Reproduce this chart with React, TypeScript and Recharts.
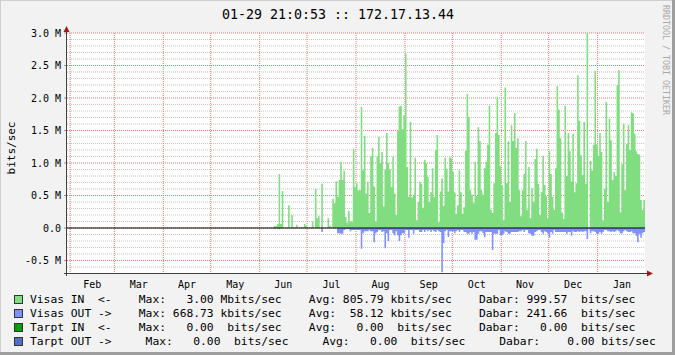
import React from 'react';
import { ComposedChart, Area, XAxis, YAxis, CartesianGrid, ReferenceLine } from 'recharts';

// ---- data (values in Mbits/sec, one value per day) ----
// day 0 = start of the graph (01-29 of previous year); data begins at firstDay
const firstDay = 127;
const totalDays = 366;

const visasIn: number[] = [
  0, 0, 0, 0, 0.03, 0.03, 0.06, 0.83, 0.06, 0.57,
  0, 0, 0, 0.35, 0, 0.2, 0, 0, 0.05, 0,
  0, 0.015, 0, 0.06, 0.03, 0, 0, 0, 0.1, 0,
  0.6, 0.15, 0.18, 0, 0.68, 0, 0, 0, 0.15, 0.03,
  0, 0.45, 0.38, 0.72, 0.48, 0.74, 1.02, 0.74, 0.88, 0.17,
  0.08, 0.26, 0.1, 0.1, 1.22, 0.63, 0.69, 0.58, 0.58, 1.86,
  0.89, 1.42, 0.53, 0.71, 0.23, 1.1, 1.23, 0.64, 0.1, 1.1,
  1.4, 1.0, 1.17, 0.33, 0.9, 1.46, 1.0, 0.9, 0.63, 1.1,
  0.53, 0.2, 1.5, 1.87, 1.88, 1.52, 1.74, 2.68, 0.94, 0.48,
  1.63, 0.47, 0.51, 1.08, 0.12, 0.4, 0.71, 0.68, 0.31, 1.05,
  1.0, 0.79, 0.4, 0.55, 0.92, 0.48, 1.2, 1.43, 0.09, 0.56,
  0.76, 0.34, 1.08, 0.91, 0.56, 1.09, 1.07, 0.86, 0.55,
  0.22, 0.35, 0.89, 0.55, 0.22, 0.32, 1.19, 2.06, 1.71, 0.58,
  0.51, 0.38, 1.02, 0.49, 1.55, 1.34, 0.58, 0.51, 0.92, 1.02,
  1.28, 1.88, 0.28, 0.23, 0.69, 1.46, 2.02, 1.43, 0.95, 0.66,
  0.12, 2.16, 0.69, 1.34, 0.4, 1.58, 1.34, 1.77, 1.23, 1.38,
  0.58, 0.18, 0.58, 0.83, 1.34, 0.28, 0.94, 0.15, 0.61, 0.4,
  1.06, 1.22, 0.68, 0.2, 0.55, 1.11, 0.66, 0.49, 0.15, 1.18,
  0.83, 0.48, 0.28, 0.92, 2.18, 1.82, 1.38, 0.24, 0.14, 1.88,
  0.8, 1.46, 1.18, 0.72, 1.45, 0.55, 0.69, 2.35, 1.65, 1.12,
  0.82, 1.63, 0.68, 3.0, 0, 1.03, 0.88, 1.28, 2.42, 1.29,
  1.11, 1.46, 1.17, 0.12, 0.6, 1.94, 0.4, 1.68, 1.35, 0.74,
  0.86, 0.8, 2.2, 2.43, 0.24, 0.98, 1.6, 0.58, 1.29, 1.58,
  1.2, 1.78, 1.76, 1.45, 1.18, 1.14, 1.13, 0.43, 0.28, 0.43,
];

const visasOut: number[] = [
  0, 0, 0, 0, 0.01, 0, 0, 0.02, 0, 0,
  0, 0, 0, 0, 0, 0, 0, 0, 0, 0,
  0, 0, 0, 0, 0, 0, 0, 0, 0, 0,
  0, 0, 0, 0, 0.06, 0, 0, 0, 0, 0,
  0, 0, 0, 0, 0.08, 0.08, 0.09, 0.09, 0.03, 0.02,
  0.02, 0.02, 0.05, 0.03, 0.03, 0.03, 0.03, 0.03, 0.03, 0.32,
  0.08, 0.05, 0.05, 0.05, 0.03, 0.05, 0.05, 0.22, 0.08, 0.06,
  0.03, 0.03, 0.06, 0.05, 0.31, 0.08, 0.2, 0.03, 0.03, 0.08,
  0.11, 0.05, 0.11, 0.2, 0.11, 0.08, 0.08, 0.03, 0.03, 0.15,
  0.03, 0.03, 0.09, 0.03, 0.03, 0.03, 0.06, 0.06, 0.03, 0.06,
  0.03, 0.05, 0.03, 0.06, 0.03, 0.05, 0.06, 0.03, 0.05, 0.06,
  0.68, 0.23, 0.05, 0.03, 0.14, 0.05, 0.05, 0.05, 0.08,
  0.05, 0.03, 0.06, 0.03, 0.03, 0.06, 0.06, 0.09, 0.09, 0.06,
  0.09, 0.06, 0.18, 0.18, 0.09, 0.05, 0.05, 0.08, 0.14, 0.06,
  0.06, 0.06, 0.06, 0.34, 0.09, 0.09, 0.09, 0.03, 0.11, 0.11,
  0.09, 0.05, 0.06, 0.09, 0.09, 0.06, 0.06, 0.06, 0.06, 0.06,
  0.05, 0.05, 0.03, 0.06, 0.03, 0.03, 0.08, 0.09, 0.12, 0.12,
  0.06, 0.05, 0.03, 0.03, 0.06, 0.09, 0.05, 0.06, 0.08, 0.15,
  0.06, 0.09, 0.03, 0.06, 0.06, 0.06, 0.06, 0.06, 0.06, 0.06,
  0.09, 0.06, 0.06, 0.12, 0.05, 0.06, 0.06, 0.05, 0.06, 0.05,
  0.06, 0.05, 0.05, 0.17, 0.02, 0.08, 0.05, 0.05, 0.06, 0.09,
  0.09, 0.06, 0.09, 0.06, 0.03, 0.03, 0.05, 0.05, 0.06, 0.05,
  0.06, 0.05, 0.03, 0.05, 0.08, 0.08, 0.05, 0.03, 0.05, 0.06,
  0.06, 0.05, 0.08, 0.08, 0.12, 0.22, 0.09, 0.15, 0.08, 0.06,
];

// month boundaries (day index) and label positions (mid-month)
const monthStarts = [2, 30, 61, 91, 122, 152, 183, 214, 244, 275, 305, 336];
const monthMids = [16, 45.5, 76, 106.5, 137, 167.5, 198.5, 229, 259.5, 290, 320.5, 351.5];
const monthLabels = ['Feb', 'Mar', 'Apr', 'May', 'Jun', 'Jul', 'Aug', 'Sep', 'Oct', 'Nov', 'Dec', 'Jan'];

const majorTicks = [-0.5, 0, 0.5, 1.0, 1.5, 2.0, 2.5, 3.0];
const minorTicks = [
  -0.6, -0.4, -0.3, -0.2, -0.1, 0.1, 0.2, 0.3, 0.4, 0.6, 0.7, 0.8, 0.9,
  1.1, 1.2, 1.3, 1.4, 1.6, 1.7, 1.8, 1.9, 2.1, 2.2, 2.3, 2.4, 2.6, 2.7, 2.8, 2.9,
];

const title = '01-29 21:0:53 :: 172.17.13.44';
const unitLabel = 'bits/sec';
const watermark = 'RRDTOOL / TOBI OETIKER';

const legendColors = ['#80dd80', '#8090ff', '#00a000', '#5070c8'];
const legendLines = [
  'Visas IN  <-    Max:   3.00 Mbits/sec    Avg: 805.79 kbits/sec    Dabar: 999.57  bits/sec',
  'Visas OUT ->    Max: 668.73 kbits/sec    Avg:  58.12 kbits/sec    Dabar: 241.66  bits/sec',
  'Tarpt IN  <-    Max:   0.00  bits/sec    Avg:   0.00  bits/sec    Dabar:   0.00  bits/sec',
  'Tarpt OUT ->     Max:   0.00  bits/sec     Avg:   0.00  bits/sec     Dabar:    0.00 bits/sec',
];

// table for the chart
const table = visasIn.map((v, i) => ({ day: firstDay + i, inM: v, outM: -visasOut[i] }));
table.push({ day: totalDays, inM: visasIn[visasIn.length - 1], outM: -visasOut[visasOut.length - 1] });

const MONO = '"DejaVu Sans Mono", monospace';

export default function App() {
  return (
    <div style={{ position: 'fixed', left: 0, top: 0, width: 675, height: 355, background: '#f2f2f2', overflow: 'hidden' }}>
      <ComposedChart width={675} height={355} data={table} margin={{ top: 33, right: 30, bottom: 52, left: 10 }}>
        <CartesianGrid horizontalValues={minorTicks} vertical={false} stroke="#c4c4c4" strokeDasharray="1 1" fill="#ffffff" fillOpacity={1} />
        <CartesianGrid horizontalValues={majorTicks} verticalValues={monthStarts} stroke="#e07a7a" strokeDasharray="1 1" />
        <XAxis
          dataKey="day"
          type="number"
          domain={[0, totalDays]}
          allowDataOverflow
          ticks={monthMids}
          interval={0}
          tickFormatter={(v: number) => monthLabels[monthMids.indexOf(v)]}
          axisLine={false}
          tickLine={false}
          tickMargin={2}
          height={30}
          tick={{ fontSize: 10, fill: '#000', fontFamily: MONO }}
        />
        <YAxis
          type="number"
          domain={[-0.6923, 3.0]}
          allowDataOverflow
          ticks={majorTicks}
          interval={0}
          tickFormatter={(v: number) => (v === 0 ? '0.0' : `${v.toFixed(1)} M`)}
          axisLine={false}
          tickLine={{ stroke: '#d08080' }}
          tickSize={3}
          tickMargin={3}
          width={57}
          tick={{ fontSize: 10, fill: '#000', fontFamily: MONO }}
        />
        <Area type="stepAfter" dataKey="inM" fill="#80dd80" fillOpacity={1} stroke="none" baseValue={0} isAnimationActive={false} dot={false} activeDot={false} />
        <Area type="stepAfter" dataKey="outM" fill="#8090ff" fillOpacity={1} stroke="none" baseValue={0} isAnimationActive={false} dot={false} activeDot={false} />
        <ReferenceLine y={0} stroke="#000" strokeWidth={1} />
      </ComposedChart>
      <svg width={675} height={355} style={{ position: 'absolute', left: 0, top: 0, pointerEvents: 'none' }}>
        {/* frame */}
        <line x1={0} y1={0.5} x2={675} y2={0.5} stroke="#cfcfcf" />
        <line x1={0.5} y1={0} x2={0.5} y2={355} stroke="#cfcfcf" />
        <line x1={0} y1={353.5} x2={675} y2={353.5} stroke="#9e9e9e" strokeWidth={3} />
        <line x1={673.5} y1={0} x2={673.5} y2={355} stroke="#9e9e9e" strokeWidth={3} />
        {/* title */}
        <text x={338} y={19} textAnchor="middle" fontFamily={MONO} fontSize={13.3} fill="#000">{title}</text>
        {/* unit label */}
        <text x={15} y={148} transform="rotate(-90, 15, 148)" textAnchor="middle" fontFamily={MONO} fontSize={11} fill="#000">{unitLabel}</text>
        {/* watermark */}
        <text x={663} y={5} transform="rotate(90, 663, 5)" fontFamily={MONO} fontSize={8.3} fill="#a8a8a8">{watermark}</text>
        {/* axes */}
        <line x1={64} y1={273.5} x2={648} y2={273.5} stroke="#404040" />
        <line x1={66.5} y1={276} x2={66.5} y2={31} stroke="#404040" />
        <polygon points="66.5,26 63.5,32 69.5,32" fill="#a01818" />
        <polygon points="653,273.5 647,270.5 647,276.5" fill="#a01818" />
        {/* legend */}
        {legendLines.map((line, i) => (
          <g key={i}>
            <rect x={14.5} y={295.5 + i * 14} width={8} height={8} fill={legendColors[i]} stroke="#333" />
            <text x={30} y={303 + i * 14} fontFamily={MONO} fontSize={11.3} fill="#000" xmlSpace="preserve" style={{ whiteSpace: 'pre' }}>{line}</text>
          </g>
        ))}
      </svg>
    </div>
  );
}
